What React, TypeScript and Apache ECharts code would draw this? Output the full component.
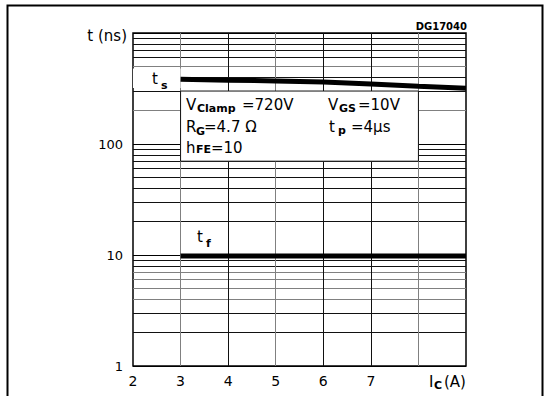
import React, { useEffect, useRef } from "react";
import * as echarts from "echarts";

// ---- data ----
const xValues = [3, 4, 5, 6, 7, 8, 9];
const tsValues = [384, 376, 370, 362, 348, 332, 318];
const tfValues = [9.8, 9.8, 9.8, 9.8, 9.8, 9.8, 9.8];

const xTicks = [2, 3, 4, 5, 6, 7, 8, 9];
const xTickLabels = ["2", "3", "4", "5", "6", "7", "", ""];
const yTicks = [1, 10, 100, 1000];
const yTickLabels = ["1", "10", "100", ""];

const minorGridValues = [2, 3, 4, 5, 6, 7, 8, 9, 20, 30, 40, 50, 60, 70, 80, 90, 200, 300, 400, 500, 600, 700, 800, 900];
const minorGridGray = [4, 5, 6, 7, 200, 500];
const vGridValues = [3, 4, 5, 6, 7, 8];
const vGridGray = [3, 5, 8];

const boxX = [3, 8];
const boxY = [70, 300];
const tsCellX = [2, 3];
const tsCellY = [320, 480];

const FONT = "DejaVu Sans";

export default function App() {
  const ref = useRef<HTMLDivElement>(null);

  useEffect(() => {
    if (!ref.current) return;
    const chart = echarts.init(ref.current, undefined, { renderer: "svg" });

    const txt = (text: string, x: number, y: number, size: number, opts: any = {}) => ({
      type: "text",
      x,
      y,
      z: 100,
      style: {
        text,
        fontFamily: FONT,
        fontSize: size,
        fontWeight: opts.bold ? "bold" : "normal",
        fill: "#000",
        align: opts.align || "left",
        verticalAlign: "middle",
      },
    });

    const option: any = {
      animation: false,
      textStyle: { fontFamily: FONT },
      grid: {
        left: 133,
        right: 78,
        top: 33,
        bottom: 30,
        show: true,
        borderColor: "#000",
        borderWidth: 1.5,
        backgroundColor: "#fff",
      },
      xAxis: {
        type: "value",
        min: 2,
        max: 9,
        interval: 1,
        axisLine: { show: false },
        axisTick: { show: false },
        splitLine: { show: false },
        axisLabel: {
          color: "#000",
          fontFamily: FONT,
          fontSize: 14,
          margin: 8,
          formatter: (v: number) => {
            const i = xTicks.indexOf(Math.round(v));
            return i >= 0 ? xTickLabels[i] : "";
          },
        },
      },
      yAxis: {
        type: "log",
        logBase: 10,
        min: 1,
        max: 1000,
        axisLine: { show: false },
        axisTick: { show: false },
        splitLine: { show: true, lineStyle: { color: "#000", width: 1 } },
        axisLabel: {
          color: "#000",
          fontFamily: FONT,
          fontSize: 13,
          margin: 10,
          formatter: (v: number) => {
            const i = yTicks.indexOf(Math.round(v));
            return i >= 0 ? yTickLabels[i] : "";
          },
        },
      },
      series: [
        {
          name: "grid",
          type: "line",
          data: [],
          z: 1,
          silent: true,
          markLine: {
            silent: true,
            z: 1,
            symbol: ["none", "none"],
            label: { show: false },
            emphasis: { disabled: true },
            data: [
              ...minorGridValues.map((v) => ({
                yAxis: v,
                lineStyle: { color: minorGridGray.includes(v) ? "#808080" : "#111", width: 1, type: "solid" },
              })),
              ...vGridValues.map((v) => ({
                xAxis: v,
                lineStyle: { color: vGridGray.includes(v) ? "#808080" : "#111", width: 1, type: "solid" },
              })),
            ],
          },
        },
        {
          name: "box",
          type: "line",
          data: [],
          z: 3,
          silent: true,
          markArea: {
            silent: true,
            z: 3,
            emphasis: { disabled: true },
            data: [
              [
                { xAxis: boxX[0], yAxis: boxY[1], itemStyle: { color: "#fff", opacity: 1, borderColor: "#111", borderWidth: 1 } },
                { xAxis: boxX[1], yAxis: boxY[0] },
              ],
              [
                { xAxis: tsCellX[0], yAxis: tsCellY[1], itemStyle: { color: "#fff", opacity: 1, borderWidth: 0 } },
                { xAxis: tsCellX[1], yAxis: tsCellY[0] },
              ],
            ],
          },
        },
        {
          name: "ts",
          type: "line",
          z: 5,
          symbol: "none",
          silent: true,
          lineStyle: { color: "#000", width: 5 },
          data: xValues.map((x, i) => [x, tsValues[i]]),
        },
        {
          name: "tf",
          type: "line",
          z: 5,
          symbol: "none",
          silent: true,
          lineStyle: { color: "#000", width: 5 },
          data: xValues.map((x, i) => [x, tfValues[i]]),
        },
      ],
      graphic: [
        {
          type: "polyline",
          z: 100,
          shape: { points: [[7.5, 396], [7.5, 5.5], [542.5, 5.5], [542.5, 396]] },
          style: { stroke: "#000", lineWidth: 2, fill: "none" },
        },
        txt("DG17040", 467, 26, 10, { bold: true, align: "right" }),
        txt("t (ns)", 127, 36, 15, { align: "right" }),
        txt("I", 429, 382, 15),
        txt("C", 434, 385, 11, { bold: true }),
        txt("(A)", 444, 382, 15),
        // ts / tf labels
        txt("t", 152, 79, 15),
        txt("s", 161, 85, 11, { bold: true }),
        txt("t", 197, 237, 15),
        txt("f", 206, 243, 11, { bold: true }),
        // box text, left column
        txt("V", 186, 104.5, 15),
        txt("Clamp", 197, 108, 11, { bold: true }),
        txt("=720V", 242, 104.5, 15),
        txt("R", 186, 126.5, 15),
        txt("G", 196, 131, 11, { bold: true }),
        txt("=4.7 Ω", 204, 126.5, 15),
        txt("h", 186, 147.5, 15),
        txt("FE", 196, 149.5, 11, { bold: true }),
        txt("=10", 211, 147.5, 15),
        // box text, right column
        txt("V", 328, 104.5, 15),
        txt("GS", 339, 108, 11, { bold: true }),
        txt("=10V", 358, 104.5, 15),
        txt("t", 329, 126.5, 15),
        txt("p", 338, 130, 11, { bold: true }),
        txt("=4μs", 351, 126.5, 15),
      ],
    };

    chart.setOption(option);
    return () => chart.dispose();
  }, []);

  return (
    <div
      ref={ref}
      style={{ position: "absolute", left: 0, top: 0, width: 544, height: 396, background: "#fff" }}
    />
  );
}
